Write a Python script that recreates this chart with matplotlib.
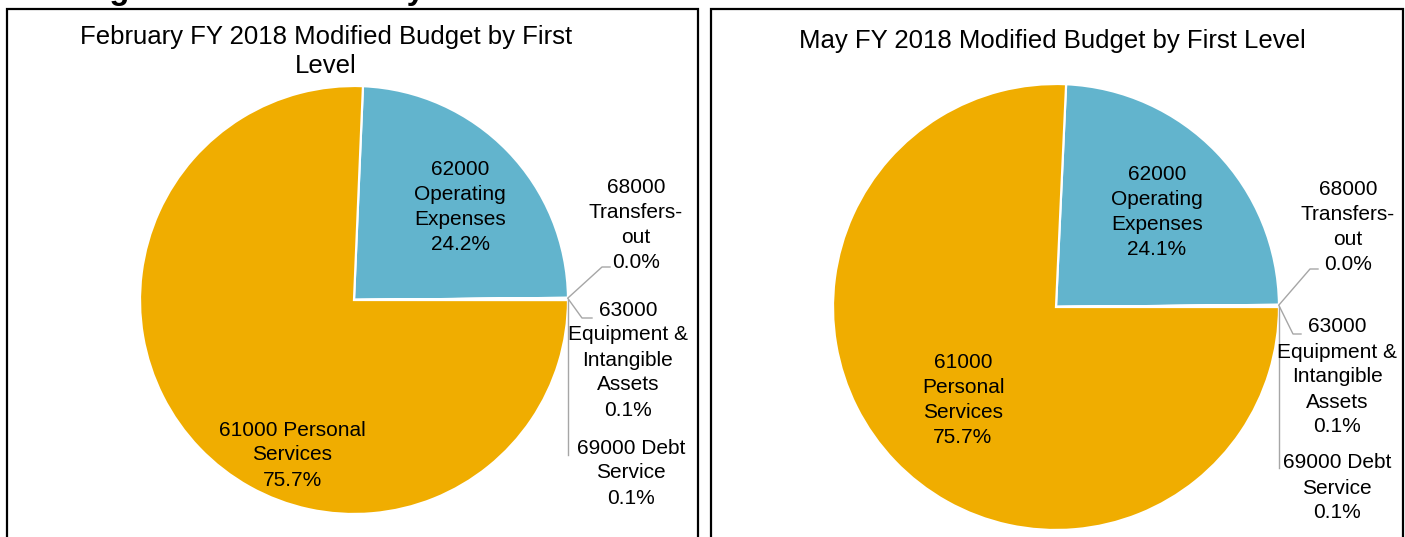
import numpy as np
import matplotlib
matplotlib.use("Agg")
import matplotlib.pyplot as plt
from matplotlib.patches import Rectangle

plt.rcParams['font.family'] = ['Liberation Sans', 'DejaVu Sans']

W, H = 1405, 537

# slice order, clockwise from just before 12 o'clock
codes = ['62000', '68000', '63000', '69000', '61000']
names = ['Operating Expenses', 'Transfers-out', 'Equipment & Intangible Assets',
         'Debt Service', 'Personal Services']
feb_pct = [24.17, 0.02, 0.08, 0.07, 75.66]
may_pct = [24.12, 0.02, 0.08, 0.06, 75.72]

# how each label wraps in the original
feb_wrap = ['62000\nOperating\nExpenses', '68000\nTransfers-\nout',
            '63000\nEquipment &\nIntangible\nAssets', '69000 Debt\nService',
            '61000 Personal\nServices']
may_wrap = ['62000\nOperating\nExpenses', '68000\nTransfers-\nout',
            '63000\nEquipment &\nIntangible\nAssets', '69000 Debt\nService',
            '61000\nPersonal\nServices']

colors = ['#62B4CD', '#A5A5A5', '#7F7F7F', '#5B9BD5', '#F0AD00']
line_col = '#A6A6A6'


def Y(y):
    # pixel row (from top) -> data y
    return H - y


fig = plt.figure(figsize=(W / 100, H / 100), dpi=100)
ax = fig.add_axes([0, 0, 1, 1])

# cut-off heading above the panels
fig.text(46 / W, 1 + 1 / H, 'Budget Modifications by First Level',
         fontsize=23.5, fontweight='bold', va='baseline', ha='left')

panels = [
    dict(pct=feb_pct, wrap=feb_wrap, center=(354, 300), r=214, start=87.6,
         box=(7, 698), title=[('February FY 2018 Modified Budget by First', 326, 37),
                              ('Level', 326, 66)],
         lab=[(460, 207), (636, 225), (628, 360), (631, 473), (292, 455)],
         legs=[None, [(602, 267), (610, 267)], [(582, 318), (592, 318)],
               [(572, 455)], None]),
    dict(pct=may_pct, wrap=may_wrap, center=(1056, 307), r=223, start=87.4,
         box=(711, 1403), title=[('May FY 2018 Modified Budget by First Level', 1052, 41)],
         lab=[(1157, 212), (1348, 227), (1337, 377), (1337, 488), (963, 400)],
         legs=[None, [(1310, 269), (1318, 269)], [(1293, 334), (1301, 334)],
               [(1281, 468)], None]),
]

for p in panels:
    cx, cy = p['center']
    wedges, _ = ax.pie(p['pct'], center=(cx, Y(cy)), radius=p['r'],
                       startangle=p['start'], counterclock=False, colors=colors,
                       wedgeprops=dict(edgecolor='white', linewidth=1.6))

    # panel frame (bottom runs off the image)
    x0, x1 = p['box']
    ax.add_patch(Rectangle((x0, Y(560)), x1 - x0, 560 - 9, fill=False,
                           edgecolor='black', linewidth=1.6, zorder=5))

    for txt, tx, ty in p['title']:
        ax.text(tx, Y(ty), txt, fontsize=18.5, ha='center', va='center')

    for i, val in enumerate(p['pct']):
        lx, ly = p['lab'][i]
        ax.text(lx, Y(ly), f"{p['wrap'][i]}\n{val:.1f}%", fontsize=15,
                ha='center', va='center', linespacing=1.4)
        if p['legs'][i] is not None:
            w = wedges[i]
            mid = np.deg2rad((w.theta1 + w.theta2) / 2)
            rx = cx + p['r'] * np.cos(mid)
            ry = cy - p['r'] * np.sin(mid)
            pts = [(rx, ry)] + p['legs'][i]
            if len(p['legs'][i]) == 1:
                pts = [(rx, ry), (rx, p['legs'][i][0][1])]
            xs = [q[0] for q in pts]
            ys = [Y(q[1]) for q in pts]
            ax.plot(xs, ys, color=line_col, linewidth=1.0)

ax.set_xlim(0, W)
ax.set_ylim(0, H)
ax.set_aspect('equal')
ax.axis('off')

fig.savefig('out.png', dpi=100)
